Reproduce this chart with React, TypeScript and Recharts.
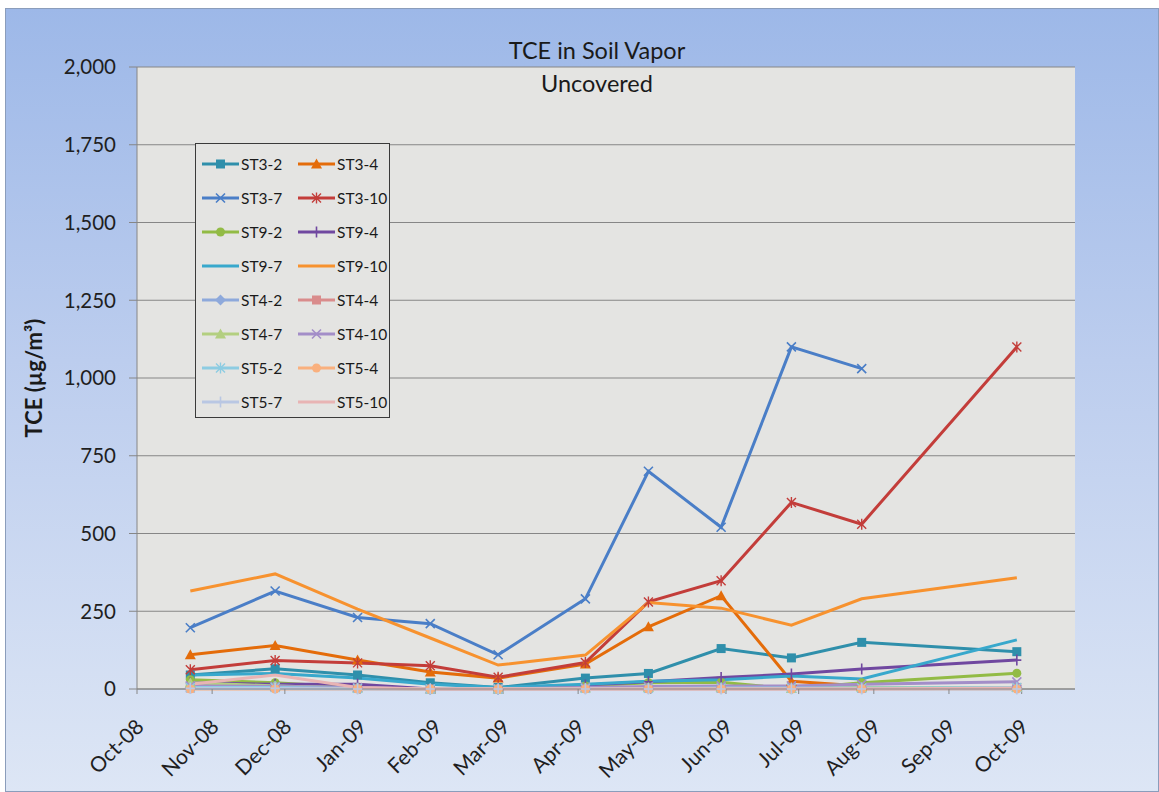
import { LineChart, Line, XAxis, YAxis, CartesianGrid } from 'recharts';

// sampling dates (x positions on a day-based axis)
const sampleDates = [
  '2008-10-23', '2008-11-27', '2008-12-31', '2009-01-30', '2009-02-27', '2009-04-04',
  '2009-04-30', '2009-05-30', '2009-06-28', '2009-07-27', '2009-09-29',
];

const monthTicks = [
  '2008-10-01', '2008-11-01', '2008-12-01', '2009-01-01', '2009-02-01', '2009-03-01', '2009-04-01',
  '2009-05-01', '2009-06-01', '2009-07-01', '2009-08-01', '2009-09-01', '2009-10-01',
];
const xStart = '2008-10-01';
const xEnd = '2009-10-23';
const yTicks = [0, 250, 500, 750, 1000, 1250, 1500, 1750, 2000];

const st3_2 = [45, 65, 45, 20, 5, 35, 50, 130, 100, 150, 120];
const st3_4 = [110, 140, 93, 55, 35, 80, 200, 300, 25, 10, null];
const st3_7 = [197, 315, 230, 210, 110, 290, 700, 520, 1100, 1030, null];
const st3_10 = [62, 92, 84, 75, 38, 85, 280, 348, 600, 530, 1100];
const st9_2 = [30, 20, 5, 0, 0, 10, 20, 22, 0, 20, 51];
const st9_4 = [20, 15, 15, 0, 0, 13, 23, 37, 48, 64, 93];
const st9_7 = [45, 50, 35, 15, 5, 15, 25, 30, 42, 32, 158];
const st9_10 = [315, 370, 257, 164, 77, 109, 278, 260, 205, 290, 358];
const st4_2 = [5, 10, 3, 0, 0, 2, 3, 3, 2, 3, 5];
const st4_4 = [3, 5, 2, 0, 0, 2, 2, 2, 2, 2, 5];
const st4_7 = [20, 10, 3, 0, 0, 3, 5, 5, 2, 5, 5];
const st4_10 = [10, 8, 5, 0, 0, 5, 8, 10, 10, 15, 23];
const st5_2 = [5, 5, 2, 0, 0, 2, 2, 3, 3, 3, 5];
const st5_4 = [0, 0, 0, 0, 0, 0, 0, 0, 0, 0, 0];
const st5_7 = [2, 2, 0, 0, 0, 0, 0, 0, 0, 0, 0];
const st5_10 = [15, 45, 5, 0, 0, 0, 0, 0, 0, 0, 3];

const seriesNames = [
  'ST3-2', 'ST3-4', 'ST3-7', 'ST3-10', 'ST9-2', 'ST9-4', 'ST9-7', 'ST9-10',
  'ST4-2', 'ST4-4', 'ST4-7', 'ST4-10', 'ST5-2', 'ST5-4', 'ST5-7', 'ST5-10',
];
const seriesValues = [
  st3_2, st3_4, st3_7, st3_10, st9_2, st9_4, st9_7, st9_10,
  st4_2, st4_4, st4_7, st4_10, st5_2, st5_4, st5_7, st5_10,
];
const seriesColors = [
  '#2F8FAB', '#E46C0A', '#4A7EC7', '#C33D3A', '#92BB45', '#7048A0', '#38A8CC', '#F7922F',
  '#8EA9DB', '#D98C8C', '#B3CF80', '#A38EC8', '#8DCCE2', '#F9B07E', '#B9C7E3', '#E8B4B4',
];
type MarkerKind = 'square' | 'triangle' | 'x' | 'star' | 'circle' | 'plus' | 'diamond' | 'none';
const seriesMarkers: MarkerKind[] = [
  'square', 'triangle', 'x', 'star', 'circle', 'plus', 'none', 'none',
  'diamond', 'square', 'triangle', 'x', 'star', 'circle', 'plus', 'none',
];

const MONTHS = ['Jan', 'Feb', 'Mar', 'Apr', 'May', 'Jun', 'Jul', 'Aug', 'Sep', 'Oct', 'Nov', 'Dec'];
const toTime = (d: string) => Date.parse(d + 'T00:00:00Z');
const fmtMonth = (t: number) => {
  const d = new Date(t);
  return `${MONTHS[d.getUTCMonth()]}-${String(d.getUTCFullYear() % 100).padStart(2, '0')}`;
};

const data = sampleDates.map((d, i) => {
  const row: Record<string, number | null> = { t: toTime(d) };
  seriesNames.forEach((n, k) => {
    row[n] = seriesValues[k][i];
  });
  return row;
});

const FONT = 'Lato, "Open Sans", sans-serif';

function MarkerShape({ kind, cx, cy, color, s = 4.5 }: { kind: MarkerKind; cx: number; cy: number; color: string; s?: number }) {
  switch (kind) {
    case 'square':
      return <rect x={cx - s} y={cy - s} width={s * 2} height={s * 2} fill={color} />;
    case 'triangle':
      return <polygon points={`${cx},${cy - s - 1} ${cx + s + 1},${cy + s} ${cx - s - 1},${cy + s}`} fill={color} />;
    case 'diamond':
      return <polygon points={`${cx},${cy - s - 1} ${cx + s + 1},${cy} ${cx},${cy + s + 1} ${cx - s - 1},${cy}`} fill={color} />;
    case 'circle':
      return <circle cx={cx} cy={cy} r={s} fill={color} />;
    case 'x':
      return (
        <path d={`M${cx - s},${cy - s}L${cx + s},${cy + s}M${cx - s},${cy + s}L${cx + s},${cy - s}`} stroke={color} strokeWidth={1.6} fill="none" />
      );
    case 'star':
      return (
        <path
          d={`M${cx - s},${cy - s}L${cx + s},${cy + s}M${cx - s},${cy + s}L${cx + s},${cy - s}M${cx},${cy - s - 1}L${cx},${cy + s + 1}`}
          stroke={color}
          strokeWidth={1.4}
          fill="none"
        />
      );
    case 'plus':
      return <path d={`M${cx - s},${cy}L${cx + s},${cy}M${cx},${cy - s - 1}L${cx},${cy + s + 1}`} stroke={color} strokeWidth={1.6} fill="none" />;
    default:
      return null;
  }
}

const makeDot = (kind: MarkerKind, color: string) => (props: any) => {
  const { cx, cy, index, value } = props;
  if (kind === 'none' || cx == null || cy == null || value == null) return <g key={`d-${index}`} />;
  return (
    <g key={`d-${index}`}>
      <MarkerShape kind={kind} cx={cx} cy={cy} color={color} />
    </g>
  );
};

const XTick = ({ x, y, payload }: any) => {
  const ax = x + 2;
  const ay = y + 26;
  return (
    <text x={ax} y={ay} transform={`rotate(-45 ${ax} ${ay})`} textAnchor="end" dominantBaseline="central" fontSize={21} fontFamily={FONT} fill="#1f1f1f">
      {fmtMonth(payload.value)}
    </text>
  );
};

function LegendBox() {
  return (
    <div
      style={{
        position: 'absolute',
        left: 190,
        top: 135,
        width: 195,
        height: 275,
        border: '1px solid #3a3a3a',
        background: '#E4E4E2',
        boxSizing: 'border-box',
        fontFamily: FONT,
        fontSize: 15.5,
        color: '#1a1a1a',
      }}
    >
      {seriesNames.map((n, i) => {
        const r = Math.floor(i / 2);
        const c = i % 2;
        return (
          <div key={n} style={{ position: 'absolute', left: 6 + c * 96, top: 3 + r * 34, height: 34, display: 'flex', alignItems: 'center' }}>
            <svg width={37} height={14} style={{ display: 'block' }}>
              <line x1={0} y1={7} x2={37} y2={7} stroke={seriesColors[i]} strokeWidth={3} />
              <MarkerShape kind={seriesMarkers[i]} cx={18.5} cy={7} color={seriesColors[i]} />
            </svg>
            <span style={{ marginLeft: 2 }}>{n}</span>
          </div>
        );
      })}
    </div>
  );
}

export default function App() {
  return (
    <div style={{ position: 'absolute', left: 0, top: 0, width: 1159, height: 792, background: '#fff', overflow: 'hidden' }}>
      <div
        style={{
          position: 'absolute',
          left: 5,
          top: 8,
          width: 1154,
          height: 784,
          background: 'linear-gradient(180deg, #9DB8E8 0%, #BCCDEE 45%, #DDE6F5 100%)',
          boxShadow: 'inset 0 0 0 1px #8B9DBB',
        }}
      >
        <LineChart width={1154} height={784} data={data} margin={{ top: 59, right: 84, bottom: 0, left: 0 }}>
          <CartesianGrid vertical={false} stroke="#868686" strokeWidth={1} fill="#E4E4E2" />
          <XAxis
            dataKey="t"
            type="number"
            scale="linear"
            domain={[toTime(xStart), toTime(xEnd)]}
            ticks={monthTicks.map(toTime)}
            tick={<XTick />}
            tickSize={5}
            tickMargin={2}
            height={103}
            stroke="#868686"
            interval={0}
            allowDataOverflow
          />
          <YAxis
            type="number"
            domain={[0, 2000]}
            ticks={yTicks}
            width={132}
            tickSize={8}
            tickMargin={13}
            stroke="#868686"
            tick={{ fontSize: 20.5, fontFamily: FONT, fill: '#1f1f1f' }}
            tickFormatter={(v: number) => v.toLocaleString('en-US')}
            interval={0}
          />
          {seriesNames.map((n, i) => (
            <Line
              key={n}
              dataKey={n}
              type="linear"
              stroke={seriesColors[i]}
              strokeWidth={3}
              dot={makeDot(seriesMarkers[i], seriesColors[i])}
              activeDot={false}
              isAnimationActive={false}
              connectNulls={false}
            />
          ))}
        </LineChart>
        <div style={{ position: 'absolute', left: 392, width: 400, top: 28, textAlign: 'center', fontFamily: FONT, fontSize: 23.5, color: '#1a1a1a', lineHeight: '28px' }}>
          TCE in Soil Vapor
        </div>
        <div style={{ position: 'absolute', left: 392, width: 400, top: 61, textAlign: 'center', fontFamily: FONT, fontSize: 23.5, color: '#1a1a1a', lineHeight: '28px' }}>
          Uncovered
        </div>
        <div
          style={{
            position: 'absolute',
            left: 28,
            top: 370,
            transform: 'translate(-50%, -50%) rotate(-90deg)',
            whiteSpace: 'nowrap',
            fontFamily: FONT,
            fontWeight: 700,
            fontSize: 22,
            color: '#1a1a1a',
          }}
        >
          TCE (µg/m³)
        </div>
        <LegendBox />
      </div>
    </div>
  );
}
